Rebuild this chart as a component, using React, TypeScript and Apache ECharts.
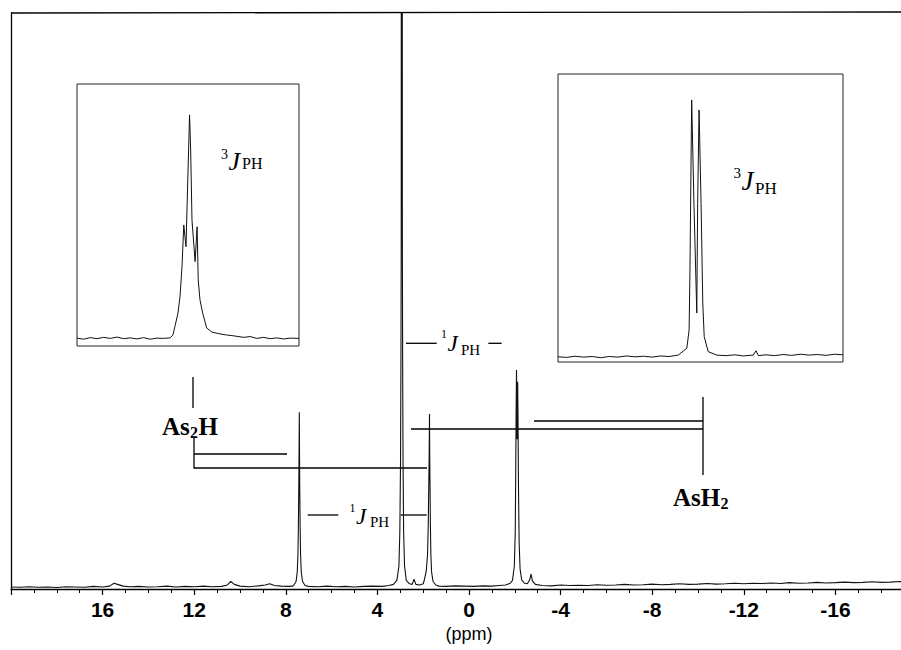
import React, { useEffect, useRef } from "react";
import * as echarts from "echarts";

// ---- main spectrum: [ppm, intensity] ----
const baselineLow: number[][] = [
  [20.0, 0.35], [19.6, 0.3], [19.2, 0.4], [18.8, 0.3], [18.4, 0.35], [18.0, 0.25], [17.6, 0.4],
  [17.2, 0.35], [16.8, 0.3], [16.4, 0.45], [16.0, 0.35], [15.7, 0.5], [15.5, 1.0], [15.35, 0.8],
  [15.1, 0.5], [14.8, 0.4], [14.4, 0.45], [14.0, 0.35], [13.6, 0.4], [13.2, 0.5], [12.8, 0.35],
  [12.4, 0.45], [12.0, 0.4], [11.6, 0.5], [11.2, 0.4], [10.8, 0.45], [10.55, 0.7], [10.4, 1.3],
  [10.25, 0.8], [10.0, 0.5], [9.6, 0.4], [9.2, 0.55], [8.9, 0.7], [8.7, 0.9], [8.5, 0.6],
  [8.2, 0.5], [7.9, 0.45], [7.7, 0.5],
];
const peakAs2HLow: number[][] = [
  [7.66, 0.6], [7.55, 1.3], [7.5, 3], [7.47, 6], [7.45, 11], [7.435, 17], [7.422, 23],
  [7.41, 30.7], [7.4, 23], [7.39, 17], [7.375, 11], [7.355, 6], [7.325, 3], [7.27, 1.3], [7.16, 0.6],
];
const baselineMid: number[][] = [
  [7.0, 0.45], [6.6, 0.4], [6.2, 0.5], [5.8, 0.4], [5.4, 0.45], [5.0, 0.35], [4.6, 0.45],
  [4.2, 0.5], [3.8, 0.45], [3.5, 0.6], [3.3, 0.8],
];
const peakCentral: number[][] = [
  [3.15, 1.5], [3.06, 4], [3.02, 10], [2.99, 22], [2.972, 40], [2.96, 60], [2.955, 140],
  [2.915, 140], [2.91, 60], [2.898, 40], [2.88, 22], [2.855, 10],
  [2.815, 4], [2.74, 1.5], [2.6, 0.9],
  [2.48, 0.8], [2.4, 1.7], [2.32, 0.8], [2.15, 0.7], [2.0, 0.9],
];
const peakAs2HHigh: number[][] = [
  [1.97, 1.3], [1.87, 3], [1.81, 6], [1.78, 11], [1.76, 17], [1.74, 23], [1.725, 30.4],
  [1.715, 23], [1.7, 17], [1.685, 11], [1.665, 6], [1.635, 3], [1.57, 1.3], [1.45, 0.7],
];
const baselineZero: number[][] = [
  [1.3, 0.5], [1.0, 0.45], [0.6, 0.55], [0.2, 0.5], [-0.2, 0.45], [-0.6, 0.55], [-1.0, 0.5],
  [-1.3, 0.6], [-1.6, 0.7], [-1.8, 1.0],
];
const peakAsH2: number[][] = [
  [-1.9, 1.5], [-1.98, 4], [-2.02, 10], [-2.04, 20], [-2.06, 32], [-2.075, 38], [-2.09, 30],
  [-2.1, 26], [-2.11, 30], [-2.125, 36], [-2.14, 30], [-2.16, 18], [-2.19, 8], [-2.23, 3.5],
  [-2.3, 1.6], [-2.42, 1.0], [-2.55, 0.9], [-2.65, 1.6], [-2.71, 2.6], [-2.77, 1.4], [-2.9, 0.8],
];
const baselineHigh: number[][] = [
  [-3.2, 0.6], [-3.6, 0.55], [-4.0, 0.7], [-4.4, 0.6], [-4.8, 0.65], [-5.2, 0.6], [-5.6, 0.75],
  [-6.0, 0.65], [-6.4, 0.7], [-6.8, 0.8], [-7.2, 0.7], [-7.6, 0.75], [-8.0, 0.85], [-8.4, 0.75],
  [-8.8, 0.8], [-9.2, 0.9], [-9.6, 0.8], [-10.0, 0.85], [-10.4, 0.95], [-10.8, 0.85], [-11.2, 0.9],
  [-11.6, 1.0], [-12.0, 0.9], [-12.4, 1.0], [-12.8, 0.95], [-13.2, 1.05], [-13.6, 0.95],
  [-14.0, 1.1], [-14.4, 1.0], [-14.8, 1.05], [-15.2, 1.15], [-15.6, 1.05], [-16.0, 1.1],
  [-16.4, 1.2], [-16.8, 1.1], [-17.2, 1.15], [-17.6, 1.25], [-18.0, 1.15], [-18.4, 1.2],
  [-18.8, 1.3], [-19.2, 1.2], [-19.6, 1.25], [-20.0, 1.3],
];

// ---- insets (relative position 0..100, relative intensity 0..100) ----
const insetAs2H: number[][] = [
  [0, 3.0], [3, 2.6], [6, 3.2], [9, 2.8], [12, 3.3], [15, 2.9], [18, 3.4], [21, 2.8], [24, 3.1],
  [27, 2.7], [30, 3.2], [33, 2.6], [36, 3.0], [39, 2.9], [41.9, 3.1], [43.2, 4.2], [44.1, 7.4],
  [45.5, 12.6], [46.4, 18.8], [47.3, 30.3], [48.1, 46.2], [49.1, 37.9], [49.9, 63.4], [50.7, 88.2],
  [51.2, 74.8], [51.8, 48], [53.2, 32.2], [54.1, 45.5], [54.6, 25.2], [55.4, 17.6], [56.6, 12.6],
  [58.4, 6.9], [60.8, 5.3], [64.4, 4.6], [67.4, 4.2], [71.2, 3.8], [75, 3.3], [78, 3.6], [81, 2.9],
  [84, 3.3], [87, 2.8], [90, 3.1], [93, 2.7], [96, 3.0], [100, 2.9],
];
const insetAsH2: number[][] = [
  [0, 1.8], [3, 1.6], [6, 2.0], [9, 1.7], [12, 1.9], [15, 1.5], [18, 1.9], [21, 1.7], [24, 2.1],
  [27, 1.8], [30, 2.0], [33, 1.7], [36, 2.1], [39, 1.9], [42.2, 2.4], [45.2, 4.8], [46.0, 11.1],
  [46.3, 31.9], [46.9, 91], [47.7, 55], [48.7, 17], [49.0, 55], [49.5, 87.5], [50.2, 55],
  [50.8, 20.5], [51.3, 8.8], [52.7, 3.6], [55.7, 2.4], [59, 2.2], [62, 2.5], [65, 2.1],
  [68.5, 2.4], [69.5, 3.9], [70.3, 2.2], [73, 2.5], [76, 2.2], [79, 2.6], [82, 2.3], [85, 2.7],
  [88, 2.4], [91, 2.6], [94, 2.3], [97, 2.7], [100, 2.5],
];

const axisMin = -20;
const axisMax = 20;
const axisInterval = 4;
const axisName = "(ppm)";

const SERIF = "'Liberation Serif', 'DejaVu Serif', serif";
const SANS = "'Liberation Sans', Arial, sans-serif";

function txt(text: string, x: number, y: number, size: number, opts: any = {}) {
  return {
    type: "text",
    x,
    y,
    silent: true,
    style: {
      text,
      fill: "#000",
      font: `${opts.italic ? "italic " : ""}${opts.bold ? "bold " : ""}${size}px ${opts.family || SERIF}`,
      textAlign: "left",
      textVerticalAlign: "middle",
      verticalAlign: "middle",
    },
  };
}

function ln(x1: number, y1: number, x2: number, y2: number, w = 1.3) {
  return {
    type: "line",
    silent: true,
    shape: { x1, y1, x2, y2 },
    style: { stroke: "#000", lineWidth: w },
  };
}

export default function App() {
  const ref = useRef<HTMLDivElement>(null);
  useEffect(() => {
    if (!ref.current) return;
    const chart = echarts.init(ref.current, null, { renderer: "svg" });
    const mainData = [
      ...baselineLow, ...peakAs2HLow, ...baselineMid, ...peakCentral,
      ...peakAs2HHigh, ...baselineZero, ...peakAsH2, ...baselineHigh,
    ];
    const hidden = { show: false };
    const option: any = {
      animation: false,
      backgroundColor: "#fff",
      grid: [
        { left: 11, top: 13, width: 916, height: 576, outerBoundsMode: "none" },
        { left: 77, top: 84, width: 222, height: 262, show: true, borderColor: "#222", borderWidth: 1, backgroundColor: "#fff", outerBoundsMode: "none" },
        { left: 558, top: 74, width: 285, height: 288, show: true, borderColor: "#222", borderWidth: 1, backgroundColor: "#fff", outerBoundsMode: "none" },
      ],
      xAxis: [
        {
          gridIndex: 0,
          type: "value",
          min: axisMin,
          max: axisMax,
          interval: axisInterval,
          inverse: true,
          axisLine: { show: true, onZero: false, lineStyle: { color: "#000", width: 1.3 } },
          axisTick: { show: true, length: 6, lineStyle: { color: "#000", width: 1.2 } },
          minorTick: { show: true, splitNumber: 4, length: 4, lineStyle: { color: "#000", width: 1 } },
          splitLine: { show: false },
          minorSplitLine: { show: false },
          axisLabel: {
            color: "#000",
            fontFamily: SANS,
            fontWeight: "bold",
            fontSize: 21,
            margin: 10,
            formatter: (v: number) => (Math.abs(v) >= 20 ? "" : String(v)),
          },
          name: axisName,
          nameLocation: "middle",
          nameGap: 34,
          nameTextStyle: { color: "#000", fontFamily: SANS, fontSize: 18 },
        },
        { gridIndex: 1, type: "value", min: 0, max: 100, ...hidden },
        { gridIndex: 2, type: "value", min: 0, max: 100, ...hidden },
      ],
      yAxis: [
        {
          gridIndex: 0,
          type: "value",
          min: 0,
          max: 100,
          axisLine: { show: true, onZero: false, lineStyle: { color: "#000", width: 1.3 } },
          axisTick: { show: false },
          axisLabel: { show: false },
          splitLine: { show: false },
        },
        { gridIndex: 1, type: "value", min: 0, max: 100, ...hidden },
        { gridIndex: 2, type: "value", min: 0, max: 100, ...hidden },
      ],
      series: [
        {
          type: "line",
          xAxisIndex: 0,
          yAxisIndex: 0,
          data: mainData,
          showSymbol: false,
          clip: true,
          lineStyle: { color: "#111", width: 1.1 },
          z: 3,
        },
        {
          type: "line",
          xAxisIndex: 1,
          yAxisIndex: 1,
          data: insetAs2H,
          showSymbol: false,
          lineStyle: { color: "#111", width: 1 },
          z: 3,
        },
        {
          type: "line",
          xAxisIndex: 2,
          yAxisIndex: 2,
          data: insetAsH2,
          showSymbol: false,
          lineStyle: { color: "#111", width: 1 },
          z: 3,
        },
      ],
      graphic: [
        // top frame line
        ln(11, 13, 901, 12, 1.3),
        // inset labels 3J_PH
        txt("3", 221, 154, 14),
        txt("J", 228.5, 161, 26, { italic: true }),
        txt("PH", 242, 163, 16),
        txt("3", 733.5, 173, 15),
        txt("J", 741.5, 181, 27, { italic: true }),
        txt("PH", 755, 188.5, 17),
        // upper 1J_PH
        ln(406, 343.3, 436.7, 343.3),
        txt("1", 441, 334, 12),
        txt("J", 447.5, 343, 23, { italic: true }),
        txt("PH", 461, 349.5, 15),
        ln(488.3, 343.3, 501.7, 343.3),
        // lower 1J_PH
        ln(307.7, 515, 338.3, 515),
        txt("1", 349.5, 508, 12),
        txt("J", 356, 516.5, 23, { italic: true }),
        txt("PH", 370, 521.5, 15),
        ln(400.7, 515, 426.7, 515),
        // As2H label and bracket
        txt("As", 162, 426, 25, { bold: true }),
        txt("2", 190, 432, 16, { bold: true }),
        txt("H", 198.5, 426, 25, { bold: true }),
        ln(193, 377, 193, 408),
        ln(194, 438, 194, 468.5),
        ln(194, 468, 427, 468),
        ln(194, 454, 287, 454),
        // AsH2 label and bracket
        txt("AsH", 673, 497, 25, { bold: true }),
        txt("2", 720.5, 503, 16, { bold: true }),
        ln(703, 397, 703, 475),
        ln(534, 421, 703, 421),
        ln(411, 429, 703, 429),
      ],
    };
    chart.setOption(option);
    return () => chart.dispose();
  }, []);
  return (
    <div
      ref={ref}
      style={{ position: "fixed", left: 0, top: 0, width: 901, height: 650 }}
    />
  );
}
